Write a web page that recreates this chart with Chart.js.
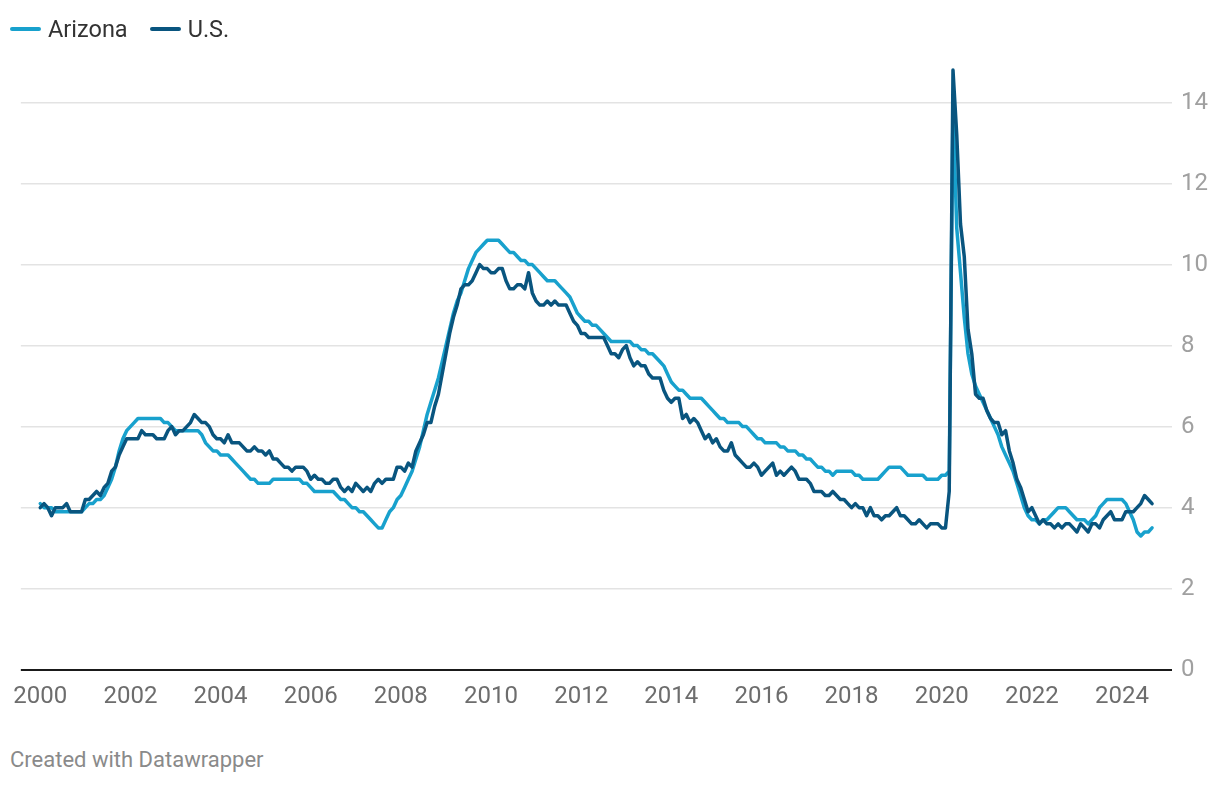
<!DOCTYPE html>
<html>
<head>
<meta charset="utf-8">
<script src="https://cdn.jsdelivr.net/npm/chart.js@4.4.1/dist/chart.umd.min.js"></script>
<style>
  body { margin: 0; background: #fff; font-family: Roboto, sans-serif; }
  #wrap { position: relative; width: 1220px; height: 786px; overflow: hidden; }
  #chart { position: absolute; left: 0; top: 0; }
  #legend { position: absolute; left: 10px; top: 17px; display: flex; align-items: center;
            font-size: 23.5px; line-height: 24px; color: #333; }
  #legend .item { display: flex; align-items: center; margin-right: 22px; }
  #legend .swatch { width: 31px; height: 4px; border-radius: 2px; margin-right: 7px; }
  #footer { position: absolute; left: 10px; top: 749px; font-size: 22px; line-height: 22px; color: #8a8a8a; }
</style>
</head>
<body>
<div id="wrap">
  <canvas id="chart" width="1220" height="730"></canvas>
  <div id="legend"></div>
  <div id="footer">Created with Datawrapper</div>
</div>
<script>
// monthly unemployment rate, Jan 2000 - Sep 2024 (one row per year)
const startYear = 2000;
const arizonaRates = [
  4.1, 4.0, 4.0, 4.0, 3.9, 3.9, 3.9, 3.9, 3.9, 3.9, 3.9, 3.9,
  4.0, 4.1, 4.1, 4.2, 4.2, 4.3, 4.5, 4.7, 5.0, 5.4, 5.7, 5.9,
  6.0, 6.1, 6.2, 6.2, 6.2, 6.2, 6.2, 6.2, 6.2, 6.1, 6.1, 6.0,
  5.9, 5.9, 5.9, 5.9, 5.9, 5.9, 5.9, 5.8, 5.6, 5.5, 5.4, 5.4,
  5.3, 5.3, 5.3, 5.2, 5.1, 5.0, 4.9, 4.8, 4.7, 4.7, 4.6, 4.6,
  4.6, 4.6, 4.7, 4.7, 4.7, 4.7, 4.7, 4.7, 4.7, 4.7, 4.6, 4.6,
  4.5, 4.4, 4.4, 4.4, 4.4, 4.4, 4.4, 4.3, 4.2, 4.2, 4.1, 4.0,
  4.0, 3.9, 3.9, 3.8, 3.7, 3.6, 3.5, 3.5, 3.7, 3.9, 4.0, 4.2,
  4.3, 4.5, 4.7, 4.9, 5.2, 5.5, 5.9, 6.3, 6.6, 6.9, 7.2, 7.6,
  8.0, 8.4, 8.8, 9.1, 9.3, 9.6, 9.9, 10.1, 10.3, 10.4, 10.5, 10.6,
  10.6, 10.6, 10.6, 10.5, 10.4, 10.3, 10.3, 10.2, 10.1, 10.1, 10.0, 10.0,
  9.9, 9.8, 9.7, 9.6, 9.6, 9.6, 9.5, 9.4, 9.3, 9.2, 9.0, 8.8,
  8.7, 8.6, 8.6, 8.5, 8.5, 8.4, 8.3, 8.2, 8.1, 8.1, 8.1, 8.1,
  8.1, 8.1, 8.0, 8.0, 7.9, 7.9, 7.8, 7.8, 7.7, 7.6, 7.5, 7.3,
  7.1, 7.0, 6.9, 6.9, 6.8, 6.7, 6.7, 6.7, 6.7, 6.6, 6.5, 6.4,
  6.3, 6.2, 6.2, 6.1, 6.1, 6.1, 6.1, 6.0, 6.0, 5.9, 5.8, 5.7,
  5.7, 5.6, 5.6, 5.6, 5.6, 5.5, 5.5, 5.4, 5.4, 5.4, 5.3, 5.3,
  5.2, 5.2, 5.1, 5.0, 5.0, 4.9, 4.9, 4.8, 4.9, 4.9, 4.9, 4.9,
  4.9, 4.8, 4.8, 4.7, 4.7, 4.7, 4.7, 4.7, 4.8, 4.9, 5.0, 5.0,
  5.0, 5.0, 4.9, 4.8, 4.8, 4.8, 4.8, 4.8, 4.7, 4.7, 4.7, 4.7,
  4.8, 4.8, 4.9, 13.9, 10.9, 9.8, 8.7, 7.8, 7.3, 7.0, 6.8, 6.6,
  6.4, 6.2, 6.0, 5.8, 5.5, 5.3, 5.1, 4.9, 4.6, 4.3, 4.0, 3.8,
  3.7, 3.7, 3.6, 3.7, 3.7, 3.8, 3.9, 4.0, 4.0, 4.0, 3.9, 3.8,
  3.7, 3.7, 3.7, 3.6, 3.7, 3.8, 4.0, 4.1, 4.2, 4.2, 4.2, 4.2,
  4.2, 4.1, 3.9, 3.7, 3.4, 3.3, 3.4, 3.4, 3.5
];
const usRates = [
  4.0, 4.1, 4.0, 3.8, 4.0, 4.0, 4.0, 4.1, 3.9, 3.9, 3.9, 3.9,
  4.2, 4.2, 4.3, 4.4, 4.3, 4.5, 4.6, 4.9, 5.0, 5.3, 5.5, 5.7,
  5.7, 5.7, 5.7, 5.9, 5.8, 5.8, 5.8, 5.7, 5.7, 5.7, 5.9, 6.0,
  5.8, 5.9, 5.9, 6.0, 6.1, 6.3, 6.2, 6.1, 6.1, 6.0, 5.8, 5.7,
  5.7, 5.6, 5.8, 5.6, 5.6, 5.6, 5.5, 5.4, 5.4, 5.5, 5.4, 5.4,
  5.3, 5.4, 5.2, 5.2, 5.1, 5.0, 5.0, 4.9, 5.0, 5.0, 5.0, 4.9,
  4.7, 4.8, 4.7, 4.7, 4.6, 4.6, 4.7, 4.7, 4.5, 4.4, 4.5, 4.4,
  4.6, 4.5, 4.4, 4.5, 4.4, 4.6, 4.7, 4.6, 4.7, 4.7, 4.7, 5.0,
  5.0, 4.9, 5.1, 5.0, 5.4, 5.6, 5.8, 6.1, 6.1, 6.5, 6.8, 7.3,
  7.8, 8.3, 8.7, 9.0, 9.4, 9.5, 9.5, 9.6, 9.8, 10.0, 9.9, 9.9,
  9.8, 9.8, 9.9, 9.9, 9.6, 9.4, 9.4, 9.5, 9.5, 9.4, 9.8, 9.3,
  9.1, 9.0, 9.0, 9.1, 9.0, 9.1, 9.0, 9.0, 9.0, 8.8, 8.6, 8.5,
  8.3, 8.3, 8.2, 8.2, 8.2, 8.2, 8.2, 8.0, 7.8, 7.8, 7.7, 7.9,
  8.0, 7.7, 7.5, 7.6, 7.5, 7.5, 7.3, 7.2, 7.2, 7.2, 6.9, 6.7,
  6.6, 6.7, 6.7, 6.2, 6.3, 6.1, 6.2, 6.1, 5.9, 5.7, 5.8, 5.6,
  5.7, 5.5, 5.4, 5.4, 5.6, 5.3, 5.2, 5.1, 5.0, 5.0, 5.1, 5.0,
  4.8, 4.9, 5.0, 5.1, 4.8, 4.9, 4.8, 4.9, 5.0, 4.9, 4.7, 4.7,
  4.7, 4.6, 4.4, 4.4, 4.4, 4.3, 4.3, 4.4, 4.3, 4.2, 4.2, 4.1,
  4.0, 4.1, 4.0, 4.0, 3.8, 4.0, 3.8, 3.8, 3.7, 3.8, 3.8, 3.9,
  4.0, 3.8, 3.8, 3.7, 3.6, 3.6, 3.7, 3.6, 3.5, 3.6, 3.6, 3.6,
  3.5, 3.5, 4.4, 14.8, 13.2, 11.0, 10.2, 8.4, 7.8, 6.8, 6.7, 6.7,
  6.4, 6.2, 6.1, 6.1, 5.8, 5.9, 5.4, 5.1, 4.7, 4.5, 4.2, 3.9,
  4.0, 3.8, 3.6, 3.7, 3.6, 3.6, 3.5, 3.6, 3.5, 3.6, 3.6, 3.5,
  3.4, 3.6, 3.5, 3.4, 3.6, 3.6, 3.5, 3.7, 3.8, 3.9, 3.7, 3.7,
  3.7, 3.9, 3.9, 3.9, 4.0, 4.1, 4.3, 4.2, 4.1
];
const yearTicks = [2000, 2002, 2004, 2006, 2008, 2010, 2012, 2014, 2016, 2018, 2020, 2022, 2024];
const rateTicks = [0, 2, 4, 6, 8, 10, 12, 14];

const seriesNames = ["Arizona", "U.S."];
const seriesColors = ["#18a1cd", "#09557f"];

function toPoints(values) {
    return values.map((v, i) => ({ x: startYear + i / 12, y: v }));
}

// legend
const legendElt = document.getElementById("legend");
seriesNames.forEach((name, i) => {
    const item = document.createElement("div");
    item.className = "item";
    item.innerHTML = `<span class="swatch" style="background:${seriesColors[i]}"></span>${name}`;
    legendElt.appendChild(item);
});

Chart.defaults.font.family = "Roboto";

const data = {
    datasets: [
        {
            label: seriesNames[0],
            data: toPoints(arizonaRates),
            borderColor: seriesColors[0],
            order: 2,
        },
        {
            label: seriesNames[1],
            data: toPoints(usRates),
            borderColor: seriesColors[1],
            order: 1,
        },
    ],
};

const config = {
    type: "line",
    data: data,
    options: {
        responsive: false,
        animation: false,
        devicePixelRatio: 1,
        layout: { padding: { top: 62, left: 17, right: 0, bottom: 0 } },
        plugins: { legend: { display: false }, tooltip: { enabled: false } },
        elements: {
            point: { radius: 0 },
            line: { tension: 0, borderWidth: 3.5, borderJoinStyle: "round", borderCapStyle: "round", fill: false },
        },
        scales: {
            x: {
                type: "linear",
                min: 1999.569,
                max: 2025.109,
                afterBuildTicks(scale) {
                    scale.ticks = yearTicks.map((v) => ({ value: v }));
                },
                afterFit(scale) {
                    scale.height = 60.3;
                },
                grid: { display: false, drawTicks: false },
                border: { display: false },
                ticks: {
                    callback: (v) => String(v),
                    color: "#6d6d6d",
                    font: { size: 24 },
                    padding: 13,
                    maxRotation: 0,
                    autoSkip: false,
                },
            },
            y: {
                position: "right",
                min: 0,
                max: 15,
                afterBuildTicks(scale) {
                    scale.ticks = rateTicks.map((v) => ({ value: v }));
                },
                afterFit(scale) {
                    scale.width = 48;
                },
                grid: {
                    drawTicks: false,
                    color: (c) => (c.tick && c.tick.value === 0 ? "#1a1a1a" : "#e3e3e3"),
                    lineWidth: (c) => (c.tick && c.tick.value === 0 ? 2 : 1.5),
                },
                border: { display: false },
                ticks: {
                    color: "#a0a0a0",
                    font: { size: 24 },
                    padding: 9,
                    crossAlign: "near",
                },
            },
        },
    },
};

new Chart(document.getElementById("chart").getContext("2d"), config);
</script>
</body>
</html>
